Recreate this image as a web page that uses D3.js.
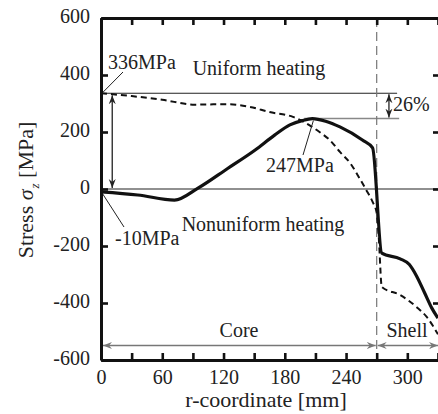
<!DOCTYPE html>
<html>
<head>
<meta charset="utf-8">
<script src="https://cdn.jsdelivr.net/npm/d3@7"></script>
<style>
  body { margin: 0; background: #fff; }
  svg text { font-family: "Liberation Serif", "Times New Roman", serif; fill: #222; }
</style>
</head>
<body>
<svg id="chart" width="438" height="414"></svg>
<script>
// values: r-coordinate [mm] / axial stress [MPa]
const uniformR = [0, 30, 60, 92, 110, 126, 146, 165, 188, 204, 214, 224, 234, 244, 253, 260, 266, 270, 272, 275, 293, 309, 319, 325, 330];
const uniformS = [336, 326, 313, 296, 297, 297, 288, 270, 253, 224, 200, 172, 130, 91, 39, -5, -45, -84, -168, -344, -372, -414, -449, -480, -510];

const nonuniformR = [0, 36, 72, 95, 124, 151, 170, 185, 197, 207, 220, 234, 256, 266, 275, 293, 302, 309, 317, 324, 330];
const nonuniformS = [-10, -21, -39, 3, 72, 137, 189, 225, 240, 247, 238, 218, 172, 144, -225, -245, -265, -305, -365, -418, -453];

const xTicks = [0, 30, 60, 90, 120, 150, 180, 210, 240, 270, 300, 330];
const yTicks = [-600, -400, -200, 0, 200, 400, 600];

const coreEdge = 270;      // core / shell boundary
const uniformPeak = 336;
const nonuniformPeak = 247;
const nonuniformPeakR = 207;

const svg = d3.select("#chart");

let x = d3.scaleLinear().domain([0, 332]).range([101, 440]);
let y = d3.scaleLinear().domain([-600, 600]).range([360, 18]);

// arrow heads
let defs = svg.append("defs");
let addHead = (id, color) => {
  defs.append("marker")
      .attr("id", id)
      .attr("viewBox", "-9 -4 10 8")
      .attr("refX", 0).attr("refY", 0)
      .attr("markerWidth", 10).attr("markerHeight", 8)
      .attr("markerUnits", "userSpaceOnUse")
      .attr("orient", "auto-start-reverse")
      .append("path")
      .attr("d", "M-9,-3.5 L0,0 L-9,3.5 L-6,0 Z")
      .attr("fill", color);
};
addHead("headDark", "#222");
addHead("headGray", "#777");

// reference lines
svg.append("line")
    .attr("x1", x(0)).attr("x2", x(332))
    .attr("y1", y(0)).attr("y2", y(0))
    .attr("stroke", "#222").attr("stroke-width", 1.2);

svg.append("line")
    .attr("x1", x(0)).attr("x2", x(290))
    .attr("y1", y(uniformPeak)).attr("y2", y(uniformPeak))
    .attr("stroke", "#222").attr("stroke-width", 1.2);

svg.append("line")
    .attr("x1", x(nonuniformPeakR - 8)).attr("x2", x(292))
    .attr("y1", y(nonuniformPeak)).attr("y2", y(nonuniformPeak))
    .attr("stroke", "#888").attr("stroke-width", 1.5);

svg.append("line")
    .attr("x1", x(coreEdge)).attr("x2", x(coreEdge))
    .attr("y1", y(600)).attr("y2", y(-600))
    .attr("stroke", "#777").attr("stroke-width", 1.2)
    .attr("stroke-dasharray", "9,5");

// curves
let line = d3.line()
    .x(d => x(d[0]))
    .y(d => y(d[1]))
    .curve(d3.curveMonotoneX);

svg.append("path")
    .datum(d3.zip(uniformR, uniformS))
    .attr("d", line)
    .attr("fill", "none")
    .attr("stroke", "#111")
    .attr("stroke-width", 2)
    .attr("stroke-dasharray", "6,4");

svg.append("path")
    .datum(d3.zip(nonuniformR, nonuniformS))
    .attr("d", line)
    .attr("fill", "none")
    .attr("stroke", "#111")
    .attr("stroke-width", 3.2)
    .attr("stroke-linejoin", "round");

// double arrows
let arrow = (x1, y1, x2, y2, color, head) => {
  svg.append("line")
      .attr("x1", x1).attr("y1", y1)
      .attr("x2", x2).attr("y2", y2)
      .attr("stroke", color).attr("stroke-width", 1.3)
      .attr("marker-start", `url(#${head})`)
      .attr("marker-end", `url(#${head})`);
};
arrow(x(11), y(uniformPeak) + 2, x(11), y(0) - 1, "#222", "headDark");
arrow(x(282), y(uniformPeak) + 1, x(282), y(nonuniformPeak) - 1, "#222", "headDark");
arrow(x(0) + 2, 345.5, x(coreEdge) - 1, 345.5, "#777", "headGray");
arrow(x(coreEdge) + 1, 345.5, x(330), 345.5, "#777", "headGray");

// leader lines
let leader = (x1, y1, x2, y2) => {
  svg.append("line")
      .attr("x1", x1).attr("y1", y1)
      .attr("x2", x2).attr("y2", y2)
      .attr("stroke", "#222").attr("stroke-width", 1);
};
leader(x(0) + 1, y(uniformPeak), 123, 72);
leader(x(nonuniformPeakR) + 1, y(nonuniformPeak) + 2, 303, 155);
leader(x(0) + 1, y(-10) + 1, 124, 227);

// annotation texts
let label = (txt, tx, ty, anchor = "start") => {
  svg.append("text")
      .attr("x", tx).attr("y", ty)
      .attr("text-anchor", anchor)
      .attr("font-size", 20)
      .text(txt);
};
label("336MPa", 108, 69);
label("Uniform heating", 259, 75, "middle");
label("26%", 393, 111);
label("247MPa", 266, 172);
label("-10MPa", 115, 245);
label("Nonuniform heating", 263, 231, "middle");
label("Core", 239, 337, "middle");
label("Shell", 407, 337, "middle");

// axes
let styleAxis = g => {
  g.select(".domain").attr("stroke", "#111").attr("stroke-width", 3);
  g.selectAll(".tick line").attr("stroke", "#111").attr("stroke-width", 2.6);
  g.selectAll(".tick text")
      .attr("font-size", 20)
      .attr("fill", "#222")
      .attr("font-family", "Liberation Serif, Times New Roman, serif");
};

svg.append("g")
    .attr("transform", `translate(0,${y(-600)})`)
    .call(d3.axisBottom(x).tickValues(xTicks).tickSizeInner(-7).tickSizeOuter(0)
      .tickPadding(10).tickFormat(d => d % 60 === 0 ? String(d) : ""))
    .call(styleAxis);

svg.append("g")
    .attr("transform", `translate(0,${y(600)})`)
    .call(d3.axisTop(x).tickValues(xTicks).tickSizeInner(-7).tickSizeOuter(0).tickFormat(""))
    .call(styleAxis);

svg.append("g")
    .attr("transform", `translate(${x(0)},0)`)
    .call(d3.axisLeft(y).tickValues(yTicks).tickSizeInner(-7).tickSizeOuter(0).tickPadding(11)
      .tickFormat(d => String(d)))
    .call(styleAxis)
    .selectAll(".tick text").attr("dy", "0.24em");

svg.append("g")
    .attr("transform", `translate(${x(332)},0)`)
    .call(d3.axisRight(y).tickValues(yTicks).tickSizeInner(-7).tickSizeOuter(0).tickFormat(""))
    .call(styleAxis);

// axis titles
svg.append("text")
    .attr("x", 266).attr("y", 407)
    .attr("text-anchor", "middle")
    .attr("font-size", 22)
    .text("r-coordinate [mm]");

let yTitle = svg.append("text")
    .attr("transform", "translate(33,190) rotate(-90)")
    .attr("text-anchor", "middle")
    .attr("font-size", 22);
yTitle.append("tspan").text("Stress ");
yTitle.append("tspan").attr("font-style", "italic").text("σ");
yTitle.append("tspan").attr("font-style", "italic").attr("font-size", 13)
    .attr("dy", 6).attr("dx", 1).text("z");
yTitle.append("tspan").attr("dy", -6).text(" [MPa]");
</script>
</body>
</html>
